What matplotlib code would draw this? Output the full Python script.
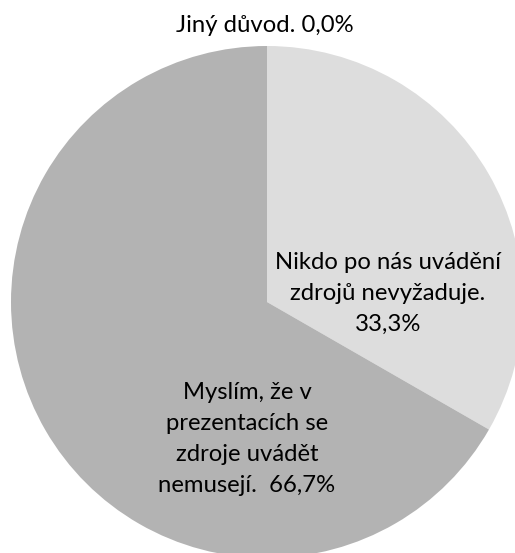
import matplotlib
matplotlib.use("Agg")
import matplotlib.pyplot as plt

categories = ["Nikdo po nás uvádění\nzdrojů nevyžaduje.", "Myslím, že v\nprezentacích se\nzdroje uvádět\nnemusejí.", "Jiný důvod."]
values = [33.3, 66.7, 0.0]
colors = ["#dddddd", "#b3b3b3", "#8c8c8c"]

plt.rcParams['font.family'] = ['Lato', 'DejaVu Sans']

W, H = 515, 553
fig = plt.figure(figsize=(W / 100, H / 100), dpi=100)
ax = fig.add_axes([0, 0, 1, 1])
cx, cy, R = 267, 302, 256

ax.pie(values, colors=colors, startangle=90, counterclock=False, radius=1.0,
       wedgeprops=dict(linewidth=0))
ax.set_aspect('auto')
ax.set_xlim(-cx / R, (W - cx) / R)
ax.set_ylim(-(H - cy) / R, cy / R)
ax.axis('off')

def px(x, y):
    return ((x - cx) / R, (cy - y) / R)

def fmt(v):
    return f"{v:.1f}%".replace('.', ',')

fs = 17.2
ls = 1.58
ax.text(*px(265, 26), f"{categories[2]} {fmt(values[2])}", ha='center', va='center', fontsize=fs)
ax.text(*px(388, 293), f"{categories[0]}\n{fmt(values[0])}", ha='center', va='center',
        fontsize=fs, linespacing=ls, multialignment='center')
ax.text(*px(247, 439), f"{categories[1]}  {fmt(values[1])}", ha='center', va='center',
        fontsize=fs, linespacing=ls, multialignment='center')

fig.savefig("out.png", dpi=100)
